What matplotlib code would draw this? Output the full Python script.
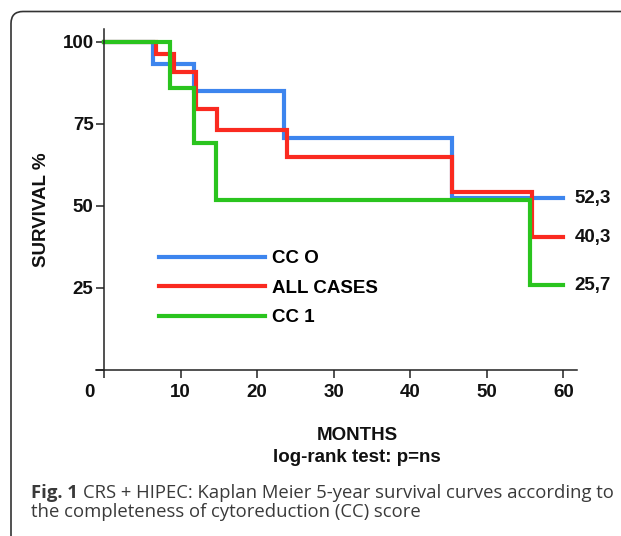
import matplotlib
matplotlib.use('Agg')
import matplotlib.pyplot as plt
from matplotlib.patches import FancyBboxPatch
from matplotlib.transforms import IdentityTransform, ScaledTranslation

# Kaplan Meier curves (months, survival %)
cc0_t = [0, 6.4, 11.7, 23.5, 45.5, 60]
cc0_s = [100, 93.1, 85.0, 70.5, 52.3, 52.3]
all_t = [0, 6.8, 9.1, 12.0, 14.7, 23.9, 45.5, 55.9, 60]
all_s = [100, 96.2, 90.7, 79.4, 73.1, 64.7, 54.2, 40.3, 40.3]
cc1_t = [0, 8.6, 11.7, 14.6, 55.6, 60]
cc1_s = [100, 86.0, 69.2, 51.7, 25.7, 25.7]

series = [('CC O', cc0_t, cc0_s, '#3d85ee'),
          ('ALL CASES', all_t, all_s, '#fa2a20'),
          ('CC 1', cc1_t, cc1_s, '#2ac41e')]

x_ticks = [0, 10, 20, 30, 40, 50, 60]
y_ticks = [0, 25, 50, 75, 100]
y_labels = ['', '25', '50', '75', '100']

W, H = 621, 536
fig = plt.figure(figsize=(W / 100, H / 100), dpi=100)

# axes placed so that x=0 -> px 104, x=60 -> px 563, y=0 -> px 369.5, y=100 -> px 41.7
x0, x1 = -2, 66
y0, y1 = -5, 106
px_per_x = (563.3 - 104) / 60
px_per_y = (369.5 - 41.7) / 100
left_px = 104 + x0 * px_per_x
right_px = 104 + x1 * px_per_x
bot_px = 369.5 - y0 * px_per_y
top_px = 369.5 - y1 * px_per_y
ax = fig.add_axes([left_px / W, 1 - bot_px / H, (right_px - left_px) / W, (bot_px - top_px) / H])
ax.set_xlim(x0, x1)
ax.set_ylim(y0, y1)
ax.patch.set_alpha(0)

font = 'Liberation Sans'
for name, t, s, c in series:
    ax.step(t, s, where='post', color=c, lw=3.0, label=name, solid_joinstyle='miter')
    ax.annotate(f'{s[-1]:.1f}'.replace('.', ','), (t[-1], s[-1]), xytext=(8, 0),
                textcoords='offset points', va='center', ha='left',
                fontsize=13.5, fontweight='bold', family=font, color='#111111')

for side in ['top', 'right']:
    ax.spines[side].set_visible(False)
ax.spines['left'].set_position(('data', 0))
ax.spines['bottom'].set_position(('data', 0))
ax.spines['left'].set_bounds(0, 104)
ax.spines['bottom'].set_bounds(-1, 61.8)
for side in ['left', 'bottom']:
    ax.spines[side].set_linewidth(1.1)
    ax.spines[side].set_color('#222222')

ax.set_xticks(x_ticks)
ax.set_xticklabels([str(v) for v in x_ticks])
ax.set_yticks(y_ticks)
ax.set_yticklabels(y_labels)
ax.tick_params(axis='x', direction='out', length=6, width=1.1, color='#222222', pad=4.5)
ax.tick_params(axis='y', direction='out', length=6, width=1.1, color='#222222', pad=1.5)
for lab in ax.get_xticklabels() + ax.get_yticklabels():
    lab.set_fontsize(13.5)
    lab.set_fontweight('bold')
    lab.set_family(font)
    lab.set_color('#111111')
# the "0" label sits left of its tick in the original
zero = ax.get_xticklabels()[0]
zero.set_transform(zero.get_transform() + ScaledTranslation(-15 / 100, 0, fig.dpi_scale_trans))

leg = ax.legend(loc='upper left', bbox_to_anchor=(159 / W, 1 - 250 / H),
                bbox_transform=fig.transFigure, frameon=False, handlelength=5.65,
                handletextpad=0.35, labelspacing=0.66, borderpad=0, borderaxespad=0,
                prop={'family': font, 'weight': 'bold', 'size': 13.5})
for line in leg.get_lines():
    line.set_linewidth(3.0)

fig.text(42 / W, 1 - 210 / H, 'SURVIVAL %', rotation=90, ha='center', va='center',
         fontsize=13.5, fontweight='bold', family=font, color='#111111')
fig.text(357 / W, 1 - 435 / H, 'MONTHS', ha='center', va='center',
         fontsize=13.5, fontweight='bold', family=font, color='#111111')
fig.text(357 / W, 1 - 457 / H, 'log-rank test: p=ns', ha='center', va='center',
         fontsize=13.5, fontweight='bold', family=font, color='#111111')

cap = 'Open Sans'
cap_size = 13.3
t1 = fig.text(31 / W, 1 - 493 / H, 'Fig. 1', ha='left', va='center',
              fontsize=cap_size, fontweight='bold', family=cap, color='#3a3a3a')
fig.canvas.draw()
bb = t1.get_window_extent()
fig.text((bb.x1 + 5) / W, 1 - 493 / H,
         'CRS + HIPEC: Kaplan Meier 5-year survival curves according to',
         ha='left', va='center', fontsize=cap_size, family=cap, color='#3a3a3a')
fig.text(31 / W, 1 - 512 / H, 'the completeness of cytoreduction (CC) score',
         ha='left', va='center', fontsize=cap_size, family=cap, color='#3a3a3a')

# rounded frame around the figure, cut by the image edges
frame = FancyBboxPatch((11, -20), 650, H - 11.5 + 20,
                       boxstyle='round,pad=0,rounding_size=12',
                       transform=IdentityTransform(), fill=False,
                       edgecolor='#333333', lw=1.2)
fig.add_artist(frame)

fig.savefig('out.png', dpi=100)
